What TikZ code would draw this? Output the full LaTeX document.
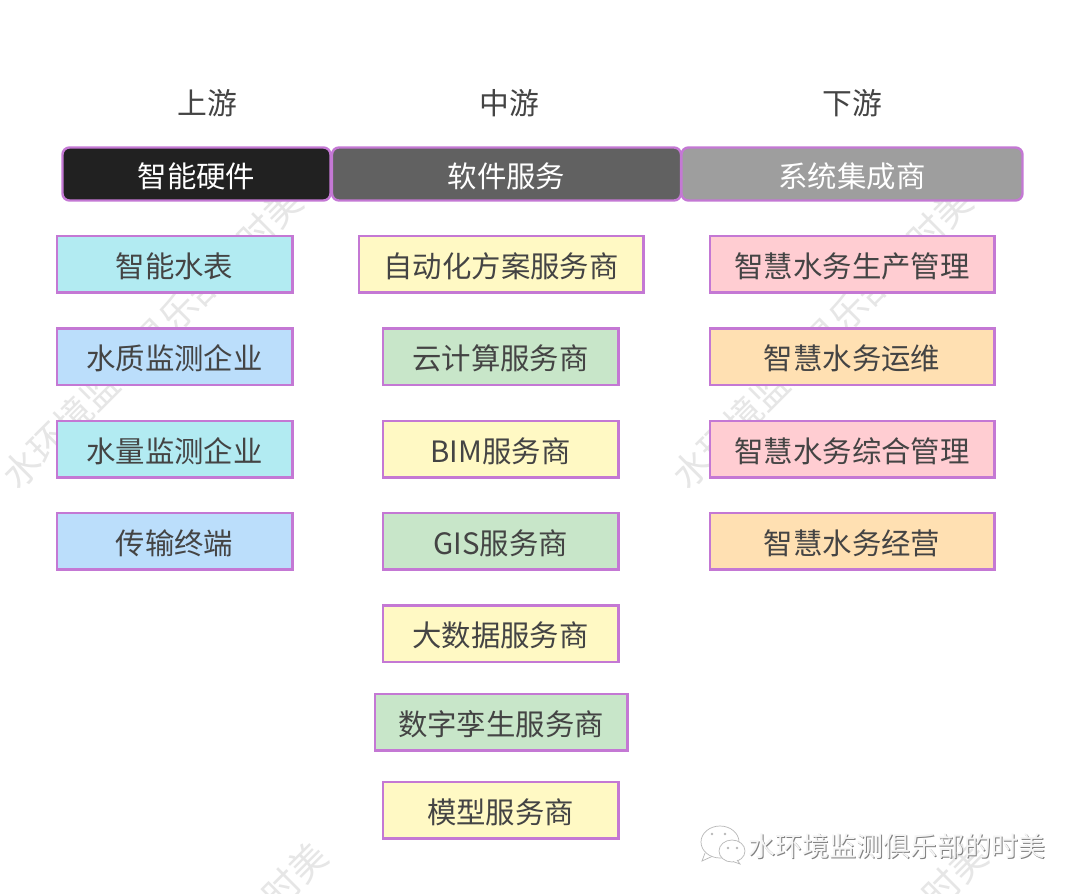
\documentclass[tikz,border=0pt]{standalone}
\usepackage{fontspec}
\setmainfont{Noto Sans CJK SC}
\definecolor{edgeviolet}{HTML}{C478D4}
\definecolor{inkgray}{HTML}{444444}
\definecolor{markgray}{HTML}{E6E6E6}
\tikzset{
  x=1pt,y=-1pt,
  item/.style={draw=edgeviolet,line width=2.5pt,inner sep=0pt,minimum height=56.5pt,text=inkgray,font=\fontsize{29.4}{29.4}\selectfont,anchor=center},
  col1/.style={item,minimum width=235.5pt},
  col2/.style={item,minimum width=235.5pt},
  col2w/.style={item,minimum width=284.5pt},
  col2m/.style={item,minimum width=252.5pt},
  col3/.style={item,minimum width=284.5pt},
  head/.style={draw=edgeviolet,line width=2.4pt,rounded corners=7pt,inner sep=0pt,minimum height=53pt,text=white,font=\fontsize{29.4}{29.4}\selectfont,anchor=center},
  stage/.style={text=inkgray,inner sep=0pt,font=\fontsize{29.8}{29.8}\selectfont},
  wmark/.style={text=markgray,inner sep=0pt,rotate=45,font=\fontsize{37}{37}\selectfont},
  logo/.style={draw=black!28,line width=0.7pt,fill=white},
}
\newcommand{\wmtext}{水环境监测俱乐部的时美}
\newcommand{\lbl}[1]{\raisebox{-13pt}[10pt][10pt]{#1}}
\begin{document}
\begin{tikzpicture}
\useasboundingbox (0,0) rectangle (1080,894);
\clip (0,0) rectangle (1080,894);
\fill[white] (0,0) rectangle (1080,894);
% watermarks
\node[wmark] (w1) at (152,338) {\wmtext};
\node[wmark] (w2) at (822,338) {\wmtext};
\node[wmark] (w3) at (177,993) {\wmtext};
\node[wmark] (w4) at (837,993) {\wmtext};
% stages
\node[stage] (s1) at (207,103) {上游};
\node[stage] (s2) at (509,103) {中游};
\node[stage] (s3) at (852,103) {下游};
% headers
\node[head,fill={rgb,255:red,33;green,33;blue,33},minimum width=268pt] (h1) at (196.5,174) {\lbl{智能硬件}};
\node[head,fill={rgb,255:red,97;green,97;blue,97},minimum width=349pt] (h2) at (506.5,174) {\lbl{软件服务}};
\node[head,fill={rgb,255:red,158;green,158;blue,158},minimum width=341pt] (h3) at (852,174) {\lbl{系统集成商}};
% left
\node[col1,fill={rgb,255:red,178;green,235;blue,242}] (a1) at (174.5,264) {\lbl{智能水表}};
\node[col1,fill={rgb,255:red,187;green,222;blue,251}] (a2) at (174.5,356.5) {\lbl{水质监测企业}};
\node[col1,fill={rgb,255:red,178;green,235;blue,242}] (a3) at (174.5,449) {\lbl{水量监测企业}};
\node[col1,fill={rgb,255:red,187;green,222;blue,251}] (a4) at (174.5,541) {\lbl{传输终端}};
% middle
\node[col2w,fill={rgb,255:red,255;green,249;blue,196}] (b1) at (501,264) {\lbl{自动化方案服务商}};
\node[col2,fill={rgb,255:red,200;green,230;blue,201}] (b2) at (500.5,356.5) {\lbl{云计算服务商}};
\node[col2,fill={rgb,255:red,255;green,249;blue,196}] (b3) at (500.5,449) {\lbl{BIM服务商}};
\node[col2,fill={rgb,255:red,200;green,230;blue,201}] (b4) at (500.5,541) {\lbl{GIS服务商}};
\node[col2,fill={rgb,255:red,255;green,249;blue,196}] (b5) at (500.5,633.5) {\lbl{大数据服务商}};
\node[col2m,fill={rgb,255:red,200;green,230;blue,201}] (b6) at (501,722) {\lbl{数字孪生服务商}};
\node[col2,fill={rgb,255:red,255;green,249;blue,196}] (b7) at (500.5,810) {\lbl{模型服务商}};
% right
\node[col3,fill={rgb,255:red,255;green,205;blue,210}] (c1) at (852,264) {\lbl{智慧水务生产管理}};
\node[col3,fill={rgb,255:red,255;green,224;blue,178}] (c2) at (852,356.5) {\lbl{智慧水务运维}};
\node[col3,fill={rgb,255:red,255;green,205;blue,210}] (c3) at (852,449) {\lbl{智慧水务综合管理}};
\node[col3,fill={rgb,255:red,255;green,224;blue,178}] (c4) at (852,541) {\lbl{智慧水务经营}};
% account mark
\draw[logo] (705,853) -- (702,861) -- (713,856);
\draw[logo] (720,842) ellipse (19pt and 16pt);
\draw[logo] (732,851) ellipse (13pt and 11pt);
\draw[logo] (737,860) -- (740,864) -- (733,861.5);
\foreach \p in {(712,834),(725,834),(728,848),(737,848)} \fill[black!28] \p circle (1.3pt);
\node[inner sep=0pt,text=black!50,font=\fontsize{27}{27}\selectfont] (f0) at (897.5,847) {\wmtext};
\node[inner sep=0pt,text=white!96!black,font=\fontsize{27}{27}\selectfont] (f1) at (896.7,846.2) {\wmtext};
\end{tikzpicture}
\end{document}
